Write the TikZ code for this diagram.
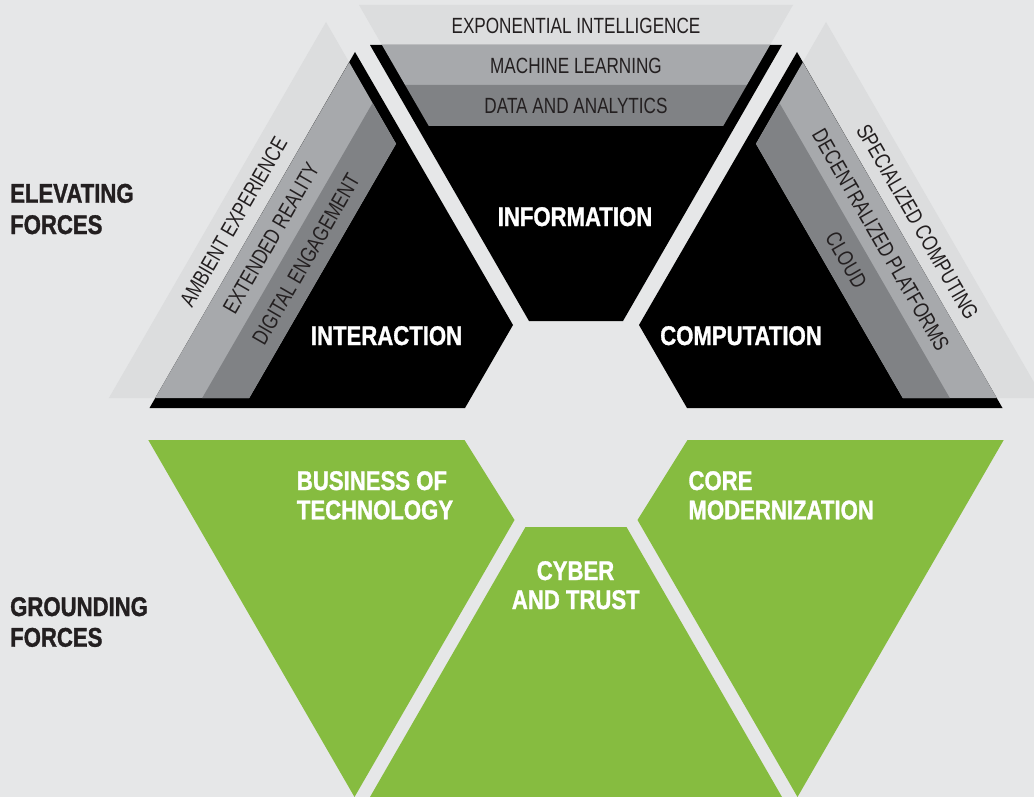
\documentclass[tikz,border=0pt]{standalone}
\usepackage{fontspec}
\setmainfont{Liberation Sans}
\newfontfamily\condfont[FakeStretch=0.82, BoldFeatures={FakeBold=1.2}]{Liberation Sans}
\newfontfamily\thinfont[FakeStretch=0.78]{Liberation Sans}
\definecolor{bgc}{HTML}{E6E7E8}
\definecolor{lightc}{HTML}{DCDDDE}
\definecolor{midc}{HTML}{A7A9AC}
\definecolor{darkc}{HTML}{808285}
\definecolor{greenc}{HTML}{86BC40}
\definecolor{inkc}{HTML}{231F20}
\begin{document}
\begin{tikzpicture}[x=1pt,y=-1pt,
  headblack/.style={font=\condfont\bfseries\fontsize{27}{30}\selectfont, text=inkc, inner sep=0pt, anchor=base west},
  headwhite/.style={font=\condfont\bfseries\fontsize{27}{30}\selectfont, text=white, inner sep=0pt, anchor=base},
  headwhitel/.style={headwhite, anchor=base west},
  bandlabel/.style={font=\thinfont\fontsize{22}{24}\selectfont, text=inkc, inner sep=0pt, anchor=base},
  sidelabel/.style={font=\thinfont\fontsize{22}{24}\selectfont, text=inkc, inner sep=0pt, anchor=center}]
\useasboundingbox (0,0) rectangle (1034,797);
\fill[bgc] (0,0) rectangle (1034,797);

% ---- left element (interaction)
\fill[lightc] (108.9,398) -- (326,22) -- (349.2,62.3) -- (155.2,398) -- cycle;
\fill[black] (355,52) -- (149.5,408) -- (465,408) -- (513,325) -- cycle;
\fill[midc] (349.2,62.3) -- (155.2,398) -- (249.2,398) -- (396,143.8) -- cycle;
\fill[darkc] (372.5,103.1) -- (202.2,398) -- (249.2,398) -- (396,143.8) -- cycle;

% ---- right element (computation)
\fill[lightc] (1043.1,398) -- (826,22) -- (802.8,62.3) -- (996.8,398) -- cycle;
\fill[black] (797,52) -- (1002.5,408) -- (687,408) -- (639,325) -- cycle;
\fill[midc] (802.8,62.3) -- (996.8,398) -- (902.8,398) -- (756,143.8) -- cycle;
\fill[darkc] (779.5,103.1) -- (949.8,398) -- (902.8,398) -- (756,143.8) -- cycle;

% ---- middle element (information)
\fill[lightc] (359,5) -- (793,5) -- (770,45) -- (382,45) -- cycle;
\fill[black] (370,45) -- (782,45) -- (623,321) -- (529,321) -- cycle;
\fill[midc] (382,45) -- (770,45) -- (746.9,85) -- (405.1,85) -- cycle;
\fill[darkc] (405.1,85) -- (746.9,85) -- (723.2,126) -- (428.8,126) -- cycle;

% ---- grounding shapes
\fill[greenc] (148.3,440) -- (464.5,440) -- (514.5,520) -- (354.5,797) -- cycle;
\fill[greenc] (525.5,527) -- (626.5,527) -- (782,797) -- (370,797) -- cycle;
\fill[greenc] (1003.7,440) -- (687.5,440) -- (637.5,520) -- (797.5,797) -- cycle;

% ---- side headings
\node[headblack] (elev1) at (10,202.7) {ELEVATING};
\node[headblack] (elev2) at (10,234) {FORCES};
\node[headblack] (grnd1) at (10,616) {GROUNDING};
\node[headblack] (grnd2) at (10,646.7) {FORCES};

% ---- band labels
\node[bandlabel] (expo) at (576,34) {EXPONENTIAL INTELLIGENCE};
\node[bandlabel] (ml) at (576,74) {MACHINE LEARNING};
\node[bandlabel] (da) at (576,114) {DATA AND ANALYTICS};

\node[sidelabel, rotate=60] (ambient) at (233.6,222) {AMBIENT EXPERIENCE};
\node[sidelabel, rotate=60] (xr) at (271.1,238) {EXTENDED REALITY};
\node[sidelabel, rotate=60] (digital) at (306,259) {DIGITAL ENGAGEMENT};

\node[sidelabel, rotate=-60] (special) at (917.5,222) {SPECIALIZED COMPUTING};
\node[sidelabel, rotate=-60] (decent) at (880.7,240) {DECENTRALIZED PLATFORMS};
\node[sidelabel, rotate=-60] (cloud) at (846.3,260) {CLOUD};

% ---- white headings
\node[headwhite] (info) at (575,226) {INFORMATION};
\node[headwhite] (inter) at (386.5,345) {INTERACTION};
\node[headwhite] (comp) at (741,345) {COMPUTATION};

\node[headwhitel] (bus1) at (296.7,490) {BUSINESS OF};
\node[headwhitel] (bus2) at (296.7,519.3) {TECHNOLOGY};
\node[headwhitel] (core1) at (688.3,490) {CORE};
\node[headwhitel] (core2) at (688.3,519.3) {MODERNIZATION};
\node[headwhite] (cyb1) at (575.5,580) {CYBER};
\node[headwhite] (cyb2) at (575.8,609) {AND TRUST};
\end{tikzpicture}
\end{document}
